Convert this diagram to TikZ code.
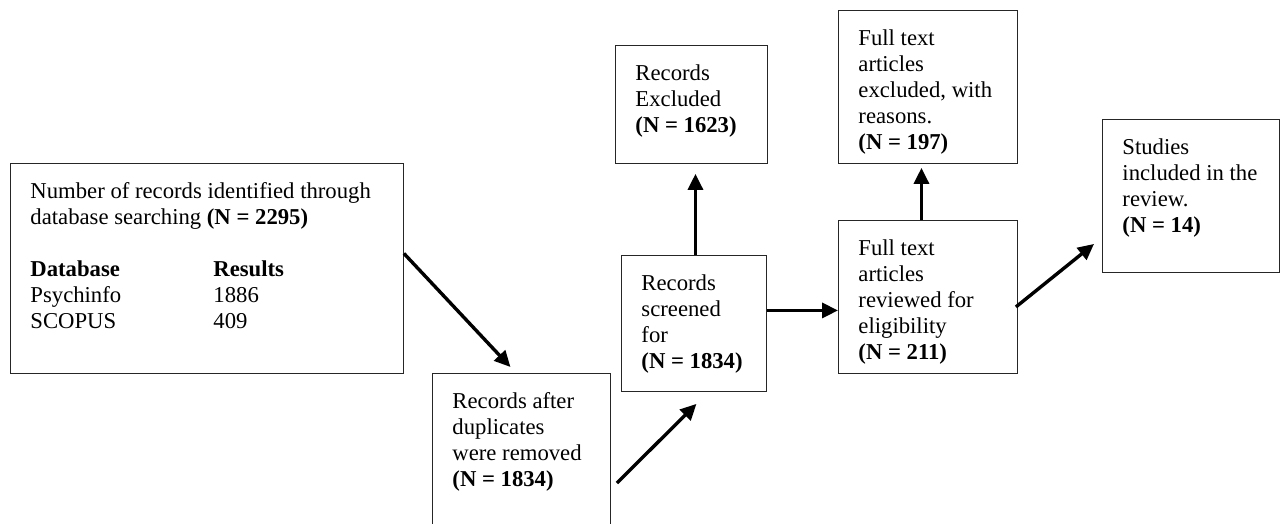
\documentclass[tikz,border=0pt]{standalone}
\usepackage{fontspec}
\setmainfont{Liberation Serif}
\usetikzlibrary{arrows.meta,calc}
\newcommand{\bxt}[3]{\parbox[c][#2pt][t]{#1pt}{\vspace*{19pt}\raggedright\leftskip=20pt\relax #3\par}}
\tikzset{
  box/.style={draw=black!85, line width=0.9pt, inner sep=0pt, anchor=north west,
    font=\fontsize{22.7}{26}\selectfont},
  arr/.style={line width=3.4pt, -{Triangle[length=16pt,width=15pt]}}
}
\begin{document}
\begin{tikzpicture}[x=1pt,y=-1pt]
\clip (0,0) rectangle (1285,524);
\fill[white] (0,0) rectangle (1285,524);
\node[box] (b1) at (10,163) {\bxt{393}{210}{Number of records identified through\\
database searching \textbf{(N = 2295)}\\[26pt]
\makebox[183pt][l]{\textbf{Database}}\textbf{Results}\\
\makebox[183pt][l]{Psychinfo}1886\\
\makebox[183pt][l]{SCOPUS}409}};
\node[box] (b2) at (432,373) {\bxt{178}{170}{Records after\\ duplicates\\ were removed\\ \textbf{(N = 1834)}}};
\node[box] (b3) at (621,255) {\bxt{145}{136}{Records\\ screened\\ for\\ \textbf{(N = 1834)}}};
\node[box] (b4) at (615,45) {\bxt{152}{118}{Records\\ Excluded\\ \textbf{(N = 1623)}}};
\node[box] (b5) at (838,10) {\bxt{179}{153}{Full text\\ articles\\ excluded, with\\ reasons.\\ \textbf{(N = 197)}}};
\node[box] (b6) at (838,220) {\bxt{179}{153}{Full text\\ articles\\ reviewed for\\ eligibility\\ \textbf{(N = 211)}}};
\node[box] (b7) at (1102,119) {\bxt{177}{153}{Studies\\ included in the\\ review.\\ \textbf{(N = 14)}}};

\draw[arr] ($(b1.east)+(0,-15)$) -- ($(b2.north)+(-11,-6)$);
\draw[arr] ($(b2.north east)+(6,110)$) -- ($(b3.south)+(2.5,12)$);
\draw[arr] ($(b3.north)+(1.5,0)$) -- ($(b4.south)+(4,10)$);
\draw[arr] ($(b3.east)+(0,-13)$) -- ($(b6.west)+(0,13.5)$);
\draw[arr] ($(b6.north)+(-6.5,0)$) -- ($(b5.south)+(-6.5,4)$);
\draw[arr] ($(b6.east)+(-2,10)$) -- ($(b7.west)+(-8,48)$);
\end{tikzpicture}
\end{document}
